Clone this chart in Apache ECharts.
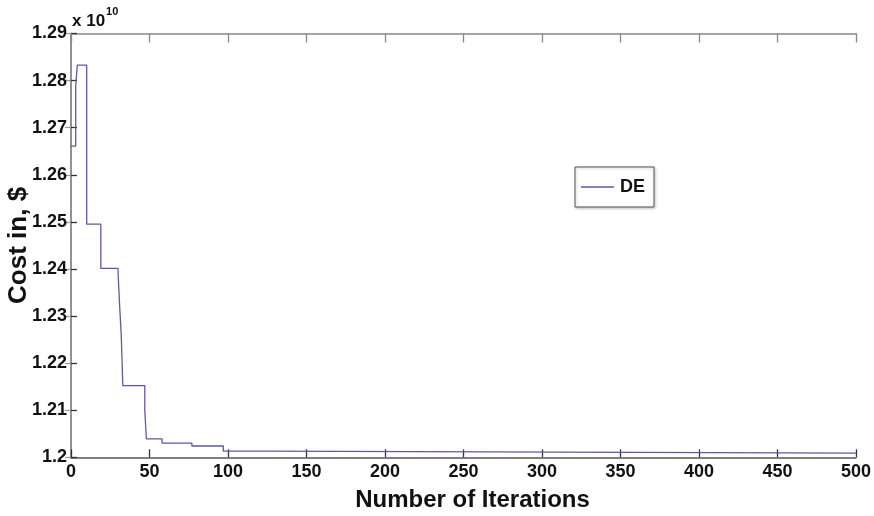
<!DOCTYPE html>
<html>
<head>
<meta charset="utf-8">
<script src="https://cdn.jsdelivr.net/npm/echarts@6/dist/echarts.min.js"></script>
<style>
html,body{margin:0;padding:0;background:#fff;}
#chart{width:874px;height:516px;}
</style>
</head>
<body>
<div id="chart"></div>
<script>
// Iteration at which the best cost changes (step holds until next point)
var iterations = [0, 3, 4, 10, 19, 30, 31, 32, 33, 35, 47, 48, 49, 58, 77, 97, 124, 500];
// Best cost, in units of 1e10 $
var costE10 = [1.2661, 1.2789, 1.2833, 1.2495, 1.2401, 1.2391, 1.2320, 1.2260, 1.2152, 1.2152, 1.2100, 1.2039, 1.2039, 1.2030, 1.2024, 1.2013, 1.2009, 1.2009];
var seriesName = 'DE';
var xTitle = 'Number of Iterations';
var yTitle = 'Cost in, $';

var font = "'Liberation Sans', Arial, sans-serif";

var data = iterations.map(function (x, i) { return [x, costE10[i]]; });

var chart = echarts.init(document.getElementById('chart'), null, {renderer: 'canvas'});
chart.setOption({
  animation: false,
  backgroundColor: '#ffffff',
  grid: {left: 71, right: 18, top: 33.5, bottom: 58.7, containLabel: false, outerBoundsMode: 'none'},
  legend: {
    data: [seriesName],
    left: 575, top: 167,
    padding: [11, 9, 11, 6],
    itemWidth: 33, itemHeight: 1.5, icon: 'rect',
    itemGap: 0,
    borderColor: '#555', borderWidth: 1,
    backgroundColor: '#fff',
    shadowColor: 'rgba(0,0,0,0.25)', shadowBlur: 3, shadowOffsetX: 1, shadowOffsetY: 1,
    textStyle: {fontFamily: font, fontWeight: 'bold', fontSize: 18, color: '#111', padding: [0, 0, 0, 1]}
  },
  xAxis: [{
    type: 'value', min: 0, max: 500, interval: 50,
    position: 'bottom',
    name: xTitle, nameLocation: 'middle', nameGap: 31,
    nameTextStyle: {fontFamily: font, fontWeight: 'bold', fontSize: 24, color: '#111', padding: [0, 0, 0, 18]},
    axisLine: {show: true, lineStyle: {color: '#555', width: 1.5}},
    axisTick: {show: true, inside: true, length: 8, lineStyle: {color: '#333', width: 1.3}},
    axisLabel: {fontFamily: font, fontWeight: 'bold', fontSize: 18, color: '#111', margin: 6},
    splitLine: {show: false}
  }, {
    type: 'value', min: 0, max: 500, interval: 50,
    position: 'top',
    axisLine: {show: true, lineStyle: {color: '#888', width: 1.5}},
    axisTick: {show: true, inside: true, length: 9, lineStyle: {color: '#888', width: 1.3}},
    axisLabel: {show: false},
    splitLine: {show: false}
  }],
  yAxis: [{
    type: 'value', min: 1.2, max: 1.29, interval: 0.01,
    position: 'left',
    name: yTitle, nameLocation: 'middle', nameGap: 39, nameRotate: 90, nameMoveOverlap: false,
    nameTextStyle: {fontFamily: font, fontWeight: 'bold', fontSize: 26, color: '#111'},
    axisLine: {show: true, lineStyle: {color: '#555', width: 1.5}},
    axisTick: {show: true, inside: true, length: 6, lineStyle: {color: '#333', width: 1.3}},
    axisLabel: {fontFamily: font, fontWeight: 'bold', fontSize: 18, color: '#111', margin: 4,
      formatter: function (v) { return String(parseFloat(v.toFixed(2))); }},
    splitLine: {show: false}
  }, {
    type: 'value', min: 1.2, max: 1.29, interval: 0.01,
    position: 'right',
    axisLine: {show: true, lineStyle: {color: '#999', width: 1.5}},
    axisTick: {show: true, inside: true, length: 6, lineStyle: {color: '#999', width: 1.2}},
    axisLabel: {show: false},
    splitLine: {show: false}
  }],
  graphic: [{
    type: 'text', left: 72, top: 6,
    style: {
      text: '{a|x 10}{b|10}',
      rich: {
        a: {fontFamily: font, fontWeight: 'bold', fontSize: 17, fill: '#111', padding: [7, 0, 0, 0]},
        b: {fontFamily: font, fontWeight: 'bold', fontSize: 11, fill: '#111', verticalAlign: 'top', padding: [0, 0, 8, 1]}
      }
    }
  }],
  series: [{
    name: seriesName, type: 'line', step: 'end',
    xAxisIndex: 0, yAxisIndex: 0,
    showSymbol: false, symbol: 'none',
    lineStyle: {color: '#5a5aa6', width: 1.3},
    itemStyle: {color: '#5a5aa6'},
    data: data
  }]
});
</script>
</body>
</html>
